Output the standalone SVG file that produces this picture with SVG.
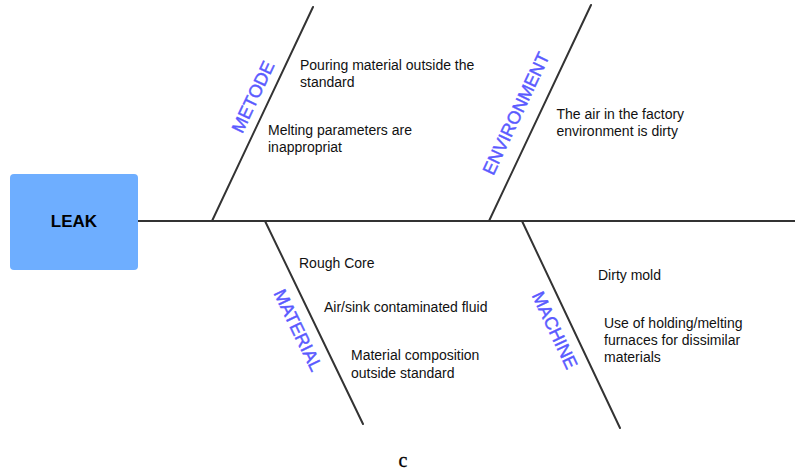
<svg xmlns="http://www.w3.org/2000/svg" width="795" height="472" viewBox="0 0 795 472">
  <style>
    .bone { stroke: #333333; stroke-width: 2; fill: none; stroke-linecap: round; }
    .cat { font-family: "Liberation Sans", Arial, sans-serif; font-size: 18px; fill: #5a5aff; stroke: #5a5aff; stroke-width: 0.45; text-anchor: middle; }
    .cause { font-family: "Liberation Sans", Arial, sans-serif; font-size: 14px; fill: #111111; }
  </style>
  <rect width="795" height="472" fill="#ffffff"/>

  <!-- spine and bones -->
  <g id="connectors">
    <line class="bone" x1="138" y1="221" x2="795" y2="221"/>
    <line class="bone" x1="212" y1="221" x2="313" y2="7"/>
    <line class="bone" x1="489" y1="221" x2="591" y2="5"/>
    <line class="bone" x1="265" y1="221" x2="363" y2="424"/>
    <line class="bone" x1="522" y1="221" x2="620" y2="428"/>
  </g>

  <g id="leak">
    <rect x="10" y="174" width="128" height="96" rx="4" fill="#6eaeff"/>
    <text x="74" y="227" font-family="Liberation Sans, Arial, sans-serif" font-size="17" font-weight="bold" fill="#000000" text-anchor="middle">LEAK</text>
  </g>

  <g id="metode">
    <text class="cat" transform="translate(252.7 96.7) rotate(-64.7)" y="6.5">METODE</text>
    <text class="cause" x="300" y="70">Pouring material outside the</text>
    <text class="cause" x="300" y="87">standard</text>
    <text class="cause" x="268" y="135">Melting parameters are</text>
    <text class="cause" x="268" y="152">inappropriat</text>
  </g>

  <g id="environment">
    <text class="cat" transform="translate(515.7 113.3) rotate(-64.7)" y="6.5">ENVIRONMENT</text>
    <text class="cause" x="556.5" y="119">The air in the factory</text>
    <text class="cause" x="556.5" y="136">environment is dirty</text>
  </g>

  <g id="material">
    <text class="cat" transform="translate(298.3 330) rotate(64.2)" y="6.5">MATERIAL</text>
    <text class="cause" x="299" y="268">Rough Core</text>
    <text class="cause" x="324" y="312">Air/sink contaminated fluid</text>
    <text class="cause" x="351" y="360">Material composition</text>
    <text class="cause" x="351" y="378">outside standard</text>
  </g>

  <g id="machine">
    <text class="cat" transform="translate(555 330) rotate(64.7)" y="6.5">MACHINE</text>
    <text class="cause" x="598" y="280">Dirty mold</text>
    <text class="cause" x="604" y="328">Use of holding/melting</text>
    <text class="cause" x="604" y="345">furnaces for dissimilar</text>
    <text class="cause" x="604" y="362">materials</text>
  </g>

  <text x="403" y="467" font-family="Liberation Serif, 'Times New Roman', serif" font-size="20" fill="#000000" stroke="#000000" stroke-width="0.3" text-anchor="middle">c</text>
</svg>
